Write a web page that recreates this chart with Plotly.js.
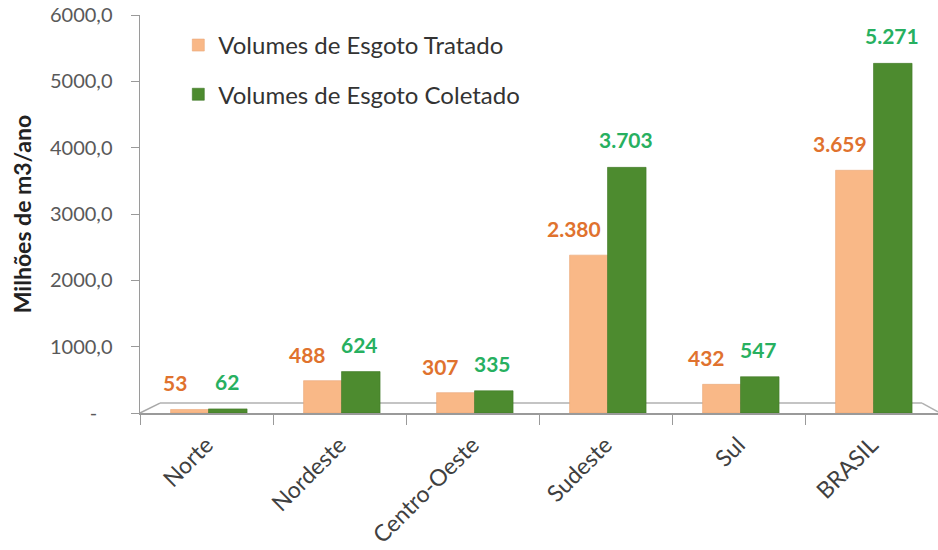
<!DOCTYPE html>
<html>
<head>
<meta charset="utf-8">
<script src="https://cdn.plot.ly/plotly-3.0.1.min.js"></script>
<style>html,body{margin:0;padding:0;background:#fff;}#chart{width:938px;height:550px;}</style>
</head>
<body>
<div id="chart"></div>
<script>
const categories = ["Norte", "Nordeste", "Centro-Oeste", "Sudeste", "Sul", "BRASIL"];
const tratado = [53, 488, 307, 2380, 432, 3659];
const coletado = [62, 624, 335, 3703, 547, 5271];
const seriesNames = ["Volumes de Esgoto Tratado", "Volumes de Esgoto Coletado"];
const yTickVals = [0, 1000, 2000, 3000, 4000, 5000, 6000];
const yTickText = ["-\u00a0\u00a0\u00a0", "1000,0", "2000,0", "3000,0", "4000,0", "5000,0", "6000,0"];

const FONT = "Lato, 'Open Sans', sans-serif";
const ORANGE_TXT = "#E0722E";
const GREEN_TXT = "#27B060";

const traces = [
  {
    type: "bar", name: seriesNames[0], x: categories, y: tratado,
    legendgroup: "a", offset: -0.27, width: 0.285,
    marker: {color: "#F9B887", line: {color: "#E9A677", width: 0.6}},
    hoverinfo: "x+y"
  },
  {
    type: "bar", name: seriesNames[1], x: categories, y: coletado,
    legendgroup: "b", offset: 0.015, width: 0.29,
    marker: {color: "#4D8B2F", line: {color: "#3F7726", width: 0.6}},
    hoverinfo: "x+y"
  }
];

function fmt(v) {
  return String(v).replace(/\B(?=(\d{3})+(?!\d))/g, ".");
}

const annotations = [];
categories.forEach((c, i) => {
  annotations.push({
    x: c, y: tratado[i], xref: "x", yref: "y", text: fmt(tratado[i]),
    showarrow: false, xanchor: "center", yanchor: "bottom", xshift: -32, yshift: 12,
    font: {family: FONT, size: 21, color: ORANGE_TXT, weight: "bold"}
  });
  annotations.push({
    x: c, y: coletado[i], xref: "x", yref: "y", text: fmt(coletado[i]),
    showarrow: false, xanchor: "center", yanchor: "bottom", xshift: 20, yshift: 13,
    font: {family: FONT, size: 21, color: GREEN_TXT, weight: "bold"}
  });
});

const layout = {
  width: 938, height: 550,
  margin: {l: 140, r: 0, t: 15, b: 137},
  paper_bgcolor: "#ffffff", plot_bgcolor: "#ffffff",
  font: {family: FONT, color: "#404040"},
  barmode: "overlay",
  showlegend: true,
  legend: {
    x: 0.048, y: 0.98, xanchor: "left", yanchor: "top",
    font: {family: FONT, size: 24, color: "#333"},
    bgcolor: "rgba(0,0,0,0)", traceorder: "grouped", tracegroupgap: 15,
    itemwidth: 30
  },
  xaxis: {
    type: "category", tickson: "boundaries", ticks: "outside", ticklen: 10, tickcolor: "#9a9a9a",
    showline: true, linecolor: "#9a9a9a", linewidth: 1.5,
    tickangle: -45, tickfont: {family: FONT, size: 23, color: "#404040"},
    ticklabelstandoff: 8,
    showgrid: false, zeroline: false
  },
  yaxis: {
    range: [0, 6000], tickvals: yTickVals, ticktext: yTickText,
    ticks: "outside", ticklen: 8, tickcolor: "#9a9a9a",
    showline: true, linecolor: "#9a9a9a", linewidth: 1.5,
    showgrid: false, zeroline: false, ticklabelstandoff: 14,
    tickfont: {family: FONT, size: 20, color: "#595959"},
    title: {text: "<b>Milhões de m3/ano</b>", font: {family: FONT, size: 23, color: "#222"}, standoff: 12}
  },
  annotations: annotations,
  shapes: [
    {type: "line", xref: "paper", yref: "paper", x0: 0, y0: 0, x1: 0.025, y1: 0.025, line: {color: "#a8a8a8", width: 1.5}},
    {type: "line", xref: "paper", yref: "paper", x0: 0.025, y0: 0.025, x1: 0.98, y1: 0.025, line: {color: "#b0b0b0", width: 1.5}, layer: "below"},
    {type: "line", xref: "paper", yref: "paper", x0: 0.98, y0: 0.025, x1: 1.0, y1: 0.003, line: {color: "#b0b0b0", width: 1.5}}
  ]
};

Plotly.newPlot("chart", traces, layout, {displayModeBar: false, staticPlot: true});
</script>
</body>
</html>
